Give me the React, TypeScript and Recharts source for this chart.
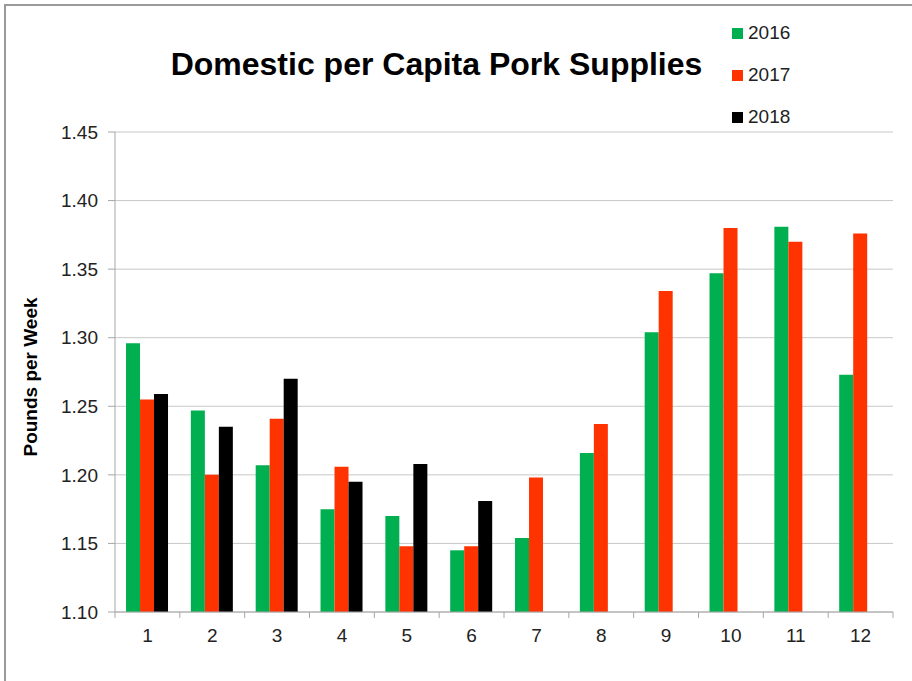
import React from 'react';
import {
  BarChart,
  Bar,
  XAxis,
  YAxis,
  CartesianGrid,
} from 'recharts';

const months = ['1', '2', '3', '4', '5', '6', '7', '8', '9', '10', '11', '12'];
const pork2016 = [1.296, 1.247, 1.207, 1.175, 1.170, 1.145, 1.154, 1.216, 1.304, 1.347, 1.381, 1.273];
const pork2017 = [1.255, 1.200, 1.241, 1.206, 1.148, 1.148, 1.198, 1.237, 1.334, 1.380, 1.370, 1.376];
const pork2018 = [1.259, 1.235, 1.270, 1.195, 1.208, 1.181, null, null, null, null, null, null];
const yTicks = [1.1, 1.15, 1.2, 1.25, 1.3, 1.35, 1.4, 1.45];

const series = [
  { key: 'y2016', name: '2016', color: '#00b050' },
  { key: 'y2017', name: '2017', color: '#ff3300' },
  { key: 'y2018', name: '2018', color: '#000000' },
];

const data = months.map((m, i) => ({
  month: m,
  y2016: pork2016[i],
  y2017: pork2017[i],
  y2018: pork2018[i],
}));

const FONT = '"Liberation Sans", Arial, sans-serif';
const W = 912;
const H = 681;
const PLOT_LEFT = 115;
const PLOT_RIGHT = 893;
const BAND = (PLOT_RIGHT - PLOT_LEFT) / months.length;

const MonthTick = (props: any) => {
  const { x, y, payload, index } = props;
  const top = y - 6;
  return (
    <g>
      <line x1={x - BAND / 2} x2={x - BAND / 2} y1={top} y2={top + 6} stroke='#a6a6a6' />
      {index === months.length - 1 && (
        <line x1={x + BAND / 2} x2={x + BAND / 2} y1={top} y2={top + 6} stroke='#a6a6a6' />
      )}
      <text x={x} y={top} dy={30} textAnchor='middle' fill='#222' fontSize={19} fontFamily={FONT}>
        {payload.value}
      </text>
    </g>
  );
};

// legend drawn outside the chart so it doesn't eat plot width
const LegendBox = () => (
  <div style={{ position: 'absolute', left: 732, top: 12, fontFamily: FONT, fontSize: 19, color: '#222' }}>
    {series.map((s) => (
      <div key={s.key} style={{ display: 'flex', alignItems: 'center', height: 42 }}>
        <span style={{ width: 11, height: 11, background: s.color, marginRight: 5 }} />
        <span>{s.name}</span>
      </div>
    ))}
  </div>
);

const App: React.FC = () => (
  <div style={{ position: 'absolute', left: 0, top: 0, width: W, height: H, overflow: 'hidden', background: '#fff' }}>
    <div style={{ position: 'absolute', left: 4, top: 4, width: 1000, height: 1000, borderLeft: '2px solid #9a9a9a', borderTop: '2px solid #9a9a9a' }} />
    <div
      style={{
        position: 'absolute',
        left: 0,
        width: 873,
        top: 46,
        textAlign: 'center',
        fontFamily: FONT,
        fontWeight: 'bold',
        fontSize: 32,
        color: '#000',
      }}
    >
      Domestic per Capita Pork Supplies
    </div>
    <div
      style={{
        position: 'absolute',
        left: 31,
        top: 377,
        transform: 'translate(-50%, -50%) rotate(-90deg)',
        whiteSpace: 'nowrap',
        fontFamily: FONT,
        fontWeight: 'bold',
        fontSize: 19,
        color: '#000',
      }}
    >
      Pounds per Week
    </div>
    <BarChart
      width={W}
      height={H}
      data={data}
      margin={{ top: 132, right: W - PLOT_RIGHT, bottom: 39, left: 0 }}
      barCategoryGap='17%'
      barGap={0}
      style={{ position: 'absolute', left: 0, top: 0 }}
    >
      <CartesianGrid vertical={false} stroke='#c8c8c8' />
      <XAxis
        dataKey='month'
        height={30}
        axisLine={{ stroke: '#a6a6a6' }}
        tickLine={false}
        tickSize={6}
        tickMargin={0}
        interval={0}
        tick={(p: any) => <MonthTick {...p} />}
      />
      <YAxis
        width={PLOT_LEFT}
        domain={[1.1, 1.45]}
        ticks={yTicks}
        allowDataOverflow
        tickFormatter={(v: number) => v.toFixed(2)}
        axisLine={{ stroke: '#a6a6a6' }}
        tickLine={{ stroke: '#a6a6a6' }}
        tickSize={7}
        tickMargin={10}
        tick={{ fill: '#222', fontSize: 19, fontFamily: FONT }}
      />
      {series.map((s) => (
        <Bar key={s.key} dataKey={s.key} name={s.name} fill={s.color} isAnimationActive={false} />
      ))}
    </BarChart>
    <LegendBox />
  </div>
);

export default App;
